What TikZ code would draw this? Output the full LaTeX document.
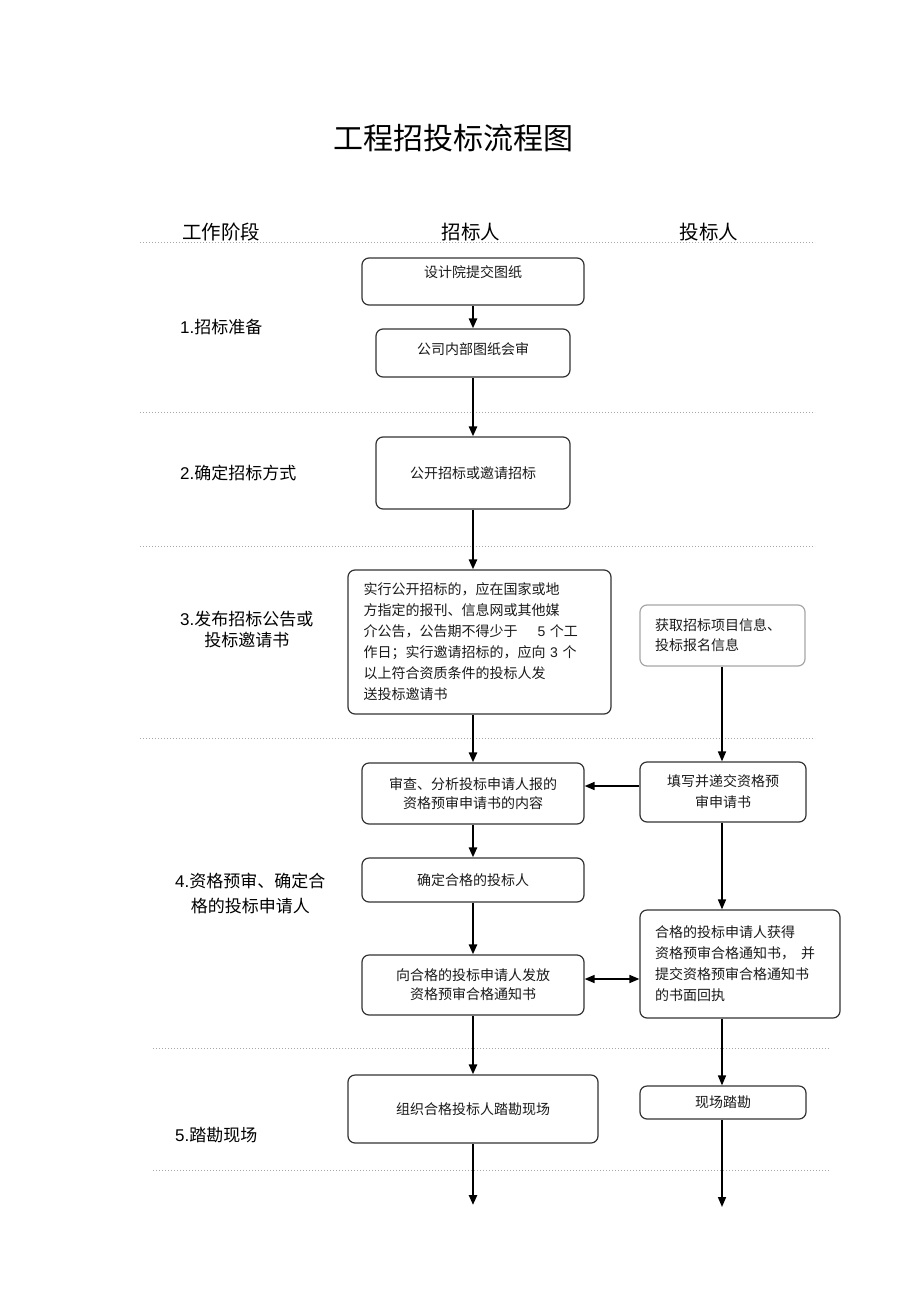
\documentclass[tikz,border=0pt]{standalone}
\usepackage{fontspec}
\setmainfont{Noto Sans CJK SC}
\newfontfamily\latin{Liberation Sans}
\usetikzlibrary{positioning,arrows.meta}
\tikzstyle{proc}=[rectangle, rounded corners=7pt, draw=black!80, line width=1.2pt, text=black!90, inner sep=0pt, font=\fontsize{14}{21}\selectfont]
\tikzstyle{stage}=[anchor=west, inner sep=0pt, align=center, font=\fontsize{17}{21}\selectfont]
\tikzstyle{head}=[inner sep=0pt, font=\fontsize{19.5}{22}\selectfont]
\tikzstyle{sepline}=[black!35, dotted, line width=1pt]
\tikzset{>={Triangle[length=10pt,width=8pt]}}
\tikzstyle{flow}=[->, line width=2.4pt]
\tikzstyle{flowthin}=[->, line width=1.6pt]

\begin{document}
\begin{tikzpicture}[x=1pt, y=-1pt]
    \useasboundingbox (0,0) rectangle (920,1303);

    \node (title)[inner sep=0pt, font=\fontsize{30}{32}\selectfont] at (453,138) {工程招投标流程图};

    \node (headStage)[head] at (221,232) {工作阶段};
    \node (headOwner)[head] at (471,232) {招标人};
    \node (headBidder)[head] at (709,232) {投标人};

    % separators
    \draw [sepline] (140,242) -- (815,242);
    \draw [sepline] (140,412) -- (815,412);
    \draw [sepline] (140,546) -- (815,546);
    \draw [sepline] (140,738) -- (815,738);
    \draw [sepline] (153,1048) -- (830,1048);
    \draw [sepline] (153,1170) -- (830,1170);

    % stages
    \node (stage1)[stage] at (180,327) {{\latin 1.}招标准备};
    \node (stage2)[stage] at (180,473) {{\latin 2.}确定招标方式};
    \node (stage3)[stage] at (180,630) {{\latin 3.}发布招标公告或\\投标邀请书};
    \node (stage4)[stage] at (175,893) {{\latin 4.}资格预审、确定合\\[4pt]格的投标申请人};
    \node (stage5)[stage] at (175,1135) {{\latin 5.}踏勘现场};

    % tenderer
    \node (design)[proc, minimum width=222pt, minimum height=47pt, text height=10pt, text depth=18pt] at (473,281.5) {设计院提交图纸};
    \node (review)[proc, minimum width=194pt, minimum height=48pt, text height=10pt, text depth=8pt] at (473,353) {公司内部图纸会审};
    \node (method)[proc, minimum width=194pt, minimum height=72pt] at (473,473) {公开招标或邀请招标};
    \node (notice)[proc, minimum width=263pt, minimum height=144pt, text width=232pt, align=left] at (479.5,642)
        {实行公开招标的，应在国家或地\\方指定的报刊、信息网或其他媒\\介公告，公告期不得少于\hspace{20pt}{\latin 5} 个工\\作日；实行邀请招标的，应向 {\latin 3} 个\\以上符合资质条件的投标人发\\送投标邀请书};
    \node (check)[proc, minimum width=222pt, minimum height=61pt, align=center, font=\fontsize{14}{19}\selectfont] at (473,793.5)
        {审查、分析投标申请人报的\\资格预审申请书的内容};
    \node (qualify)[proc, minimum width=222pt, minimum height=44pt] at (473,880) {确定合格的投标人};
    \node (issue)[proc, minimum width=222pt, minimum height=60pt, align=center, font=\fontsize{14}{19}\selectfont] at (473,985)
        {向合格的投标申请人发放\\资格预审合格通知书};
    \node (survey)[proc, minimum width=250pt, minimum height=68pt] at (473,1109) {组织合格投标人踏勘现场};

    % bidder
    \node (info)[proc, draw=black!35, minimum width=165pt, minimum height=61pt, text width=135pt, align=left, font=\fontsize{14}{20}\selectfont] at (722.5,635.5)
        {获取招标项目信息、\\投标报名信息};
    \node (apply)[proc, minimum width=166pt, minimum height=60pt, align=center] at (723,792)
        {填写并递交资格预\\审申请书};
    \node (receive)[proc, minimum width=200pt, minimum height=108pt, text width=170pt, align=left, font=\fontsize{14}{21}\selectfont] at (740,964)
        {合格的投标申请人获得\\资格预审合格通知书，\hspace{6pt}并\\提交资格预审合格通知书\\的书面回执};
    \node (visit)[proc, minimum width=166pt, minimum height=33pt] at (723,1102.5) {现场踏勘};

    \coordinate (endOwner) at (473,1205);
    \coordinate (endBidder) at (722,1207);

    % tenderer flow
    \draw [flow] (design) -- (review);
    \draw [flow] (review) -- (method);
    \draw [flow] (method) -- (method |- notice.north);
    \draw [flow] (notice.south -| method) -- (check);
    \draw [flow] (check) -- (qualify);
    \draw [flow] (qualify) -- (issue);
    \draw [flow] (issue) -- (survey);
    \draw [flow] (survey) -- (endOwner);

    % bidder flow
    \draw [flowthin] (info.south -| endBidder) -- (apply.north -| endBidder);
    \draw [flowthin] (apply.south -| endBidder) -- (receive.north -| endBidder);
    \draw [flowthin] (receive.south -| endBidder) -- (visit.north -| endBidder);
    \draw [flowthin] (visit.south -| endBidder) -- (endBidder);

    % between lanes
    \draw [flowthin] ([yshift=6pt]apply.west) -- ([yshift=6pt]apply.west -| check.east);
    \draw [flowthin, <->] ([yshift=6pt]issue.east) -- ([yshift=6pt]issue.east -| receive.west);

\end{tikzpicture}
\end{document}
